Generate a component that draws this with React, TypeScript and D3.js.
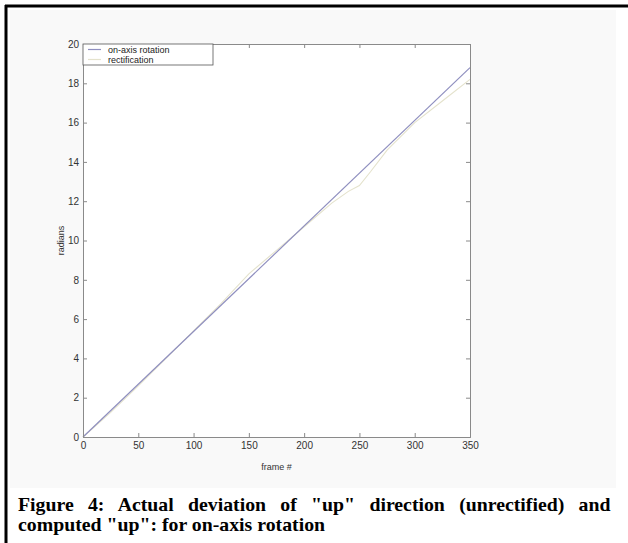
import React, { useEffect, useRef } from 'react';
import * as d3 from 'd3';

// on-axis rotation: straight line
const rotFrames = [0, 350];
const rotRadians = [0, 18.8];

// rectification
const rectFrames = [0, 25, 50, 75, 100, 125, 150, 175, 200, 225, 240, 250, 260, 275, 300, 325, 350];
const rectRadians = [0, 1.25, 2.6, 4.0, 5.4, 6.8, 8.3, 9.5, 10.7, 11.9, 12.5, 12.8, 13.5, 14.6, 16.0, 17.1, 18.2];

const xTicks = [0, 50, 100, 150, 200, 250, 300, 350];
const yTicks = [0, 2, 4, 6, 8, 10, 12, 14, 16, 18, 20];

const seriesNames = ['on-axis rotation', 'rectification'];
const seriesColors = ['#8f8fbf', '#e4e2cc'];

const captionLines = [
  'Figure 4: Actual deviation of "up" direction (unrectified) and',
  'computed "up": for on-axis rotation',
];

const W = 628;
const H = 543;
const PLOT = { left: 83, right: 470, top: 44, bottom: 437 };

const App = () => {
  const axesRef = useRef<SVGGElement>(null);

  const x = d3.scaleLinear().domain([0, 350]).range([PLOT.left, PLOT.right]);
  const y = d3.scaleLinear().domain([0, 20]).range([PLOT.bottom, PLOT.top]);

  const line = d3
    .line<[number, number]>()
    .x((d) => x(d[0]))
    .y((d) => y(d[1]));

  const rotData = rotFrames.map((f, i) => [f, rotRadians[i]] as [number, number]);
  const rectData = rectFrames.map((f, i) => [f, rectRadians[i]] as [number, number]);

  useEffect(() => {
    const g = d3.select(axesRef.current);
    g.selectAll('*').remove();

    const axisColor = '#8a8a8a';
    const fmt = d3.format('d');

    // ejes con marcas hacia dentro (estilo MATLAB)
    g.append('g')
      .attr('transform', `translate(${PLOT.left},0)`)
      .call(d3.axisLeft(y).tickValues(yTicks).tickSize(-4).tickPadding(4).tickFormat(fmt as any));
    g.append('g')
      .attr('transform', `translate(0,${PLOT.bottom})`)
      .call(d3.axisBottom(x).tickValues(xTicks).tickSize(-4).tickPadding(5).tickFormat(fmt as any));
    g.append('g')
      .attr('class', 'no-label')
      .attr('transform', `translate(${PLOT.right},0)`)
      .call(d3.axisRight(y).tickValues(yTicks).tickSize(-4));
    g.append('g')
      .attr('class', 'no-label')
      .attr('transform', `translate(0,${PLOT.top})`)
      .call(d3.axisTop(x).tickValues(xTicks).tickSize(-4));

    g.selectAll('.no-label text').remove();
    g.selectAll('.domain').attr('stroke', axisColor);
    g.selectAll('.tick line').attr('stroke', axisColor);
    g.selectAll('.tick text')
      .attr('fill', '#333')
      .style('font-family', 'Liberation Sans, Arial, sans-serif')
      .style('font-size', '10px');
  }, []);

  return (
    <svg width={W} height={H} style={{ position: 'absolute', left: 0, top: 0 }}>
      <rect x={0} y={0} width={W} height={H} fill="#ffffff" />
      <rect x={10} y={10} width={W - 22} height={478} fill="#f9f9f9" />
      <rect x={PLOT.left} y={PLOT.top} width={PLOT.right - PLOT.left} height={PLOT.bottom - PLOT.top} fill="#ffffff" />
      {/* marco negro */}
      <line x1={6} x2={6} y1={5} y2={H} stroke="#000" strokeWidth={3} />
      <line x1={5} x2={W} y1={6} y2={6} stroke="#000" strokeWidth={3} />

      <path d={line(rectData) ?? ''} fill="none" stroke={seriesColors[1]} strokeWidth={1.1} />
      <path d={line(rotData) ?? ''} fill="none" stroke={seriesColors[0]} strokeWidth={1.2} />

      <g ref={axesRef} />

      {/* leyenda */}
      <g transform={`translate(${PLOT.left},${PLOT.top})`}>
        <rect x={0} y={0} width={130} height={21} fill="#fff" stroke="#555" strokeWidth={0.8} />
        {seriesNames.map((name, i) => (
          <g key={name} transform={`translate(0,${5.5 + i * 10})`}>
            <line x1={5} x2={18} y1={0} y2={0} stroke={seriesColors[i]} strokeWidth={1.2} />
            <text
              x={25}
              y={3}
              fontSize={9}
              fill="#222"
              fontFamily="Liberation Sans, Arial, sans-serif"
            >
              {name}
            </text>
          </g>
        ))}
      </g>

      <text
        x={(PLOT.left + PLOT.right) / 2}
        y={470}
        textAnchor="middle"
        fontSize={9}
        fill="#333"
        fontFamily="Liberation Sans, Arial, sans-serif"
      >
        frame #
      </text>
      <text
        transform={`translate(64,${(PLOT.top + PLOT.bottom) / 2}) rotate(-90)`}
        textAnchor="middle"
        fontSize={9}
        fill="#333"
        fontFamily="Liberation Sans, Arial, sans-serif"
      >
        radians
      </text>

      {/* pie de figura */}
      <g
        fontSize={18}
        fontWeight="bold"
        fill="#000"
        fontFamily="Liberation Serif, Times New Roman, serif"
      >
        <text transform="translate(18,511) scale(1.1,1)" wordSpacing={8.5}>
          {captionLines[0]}
        </text>
        <text transform="translate(18,531) scale(1.1,1)">{captionLines[1]}</text>
      </g>
    </svg>
  );
};

export default App;
